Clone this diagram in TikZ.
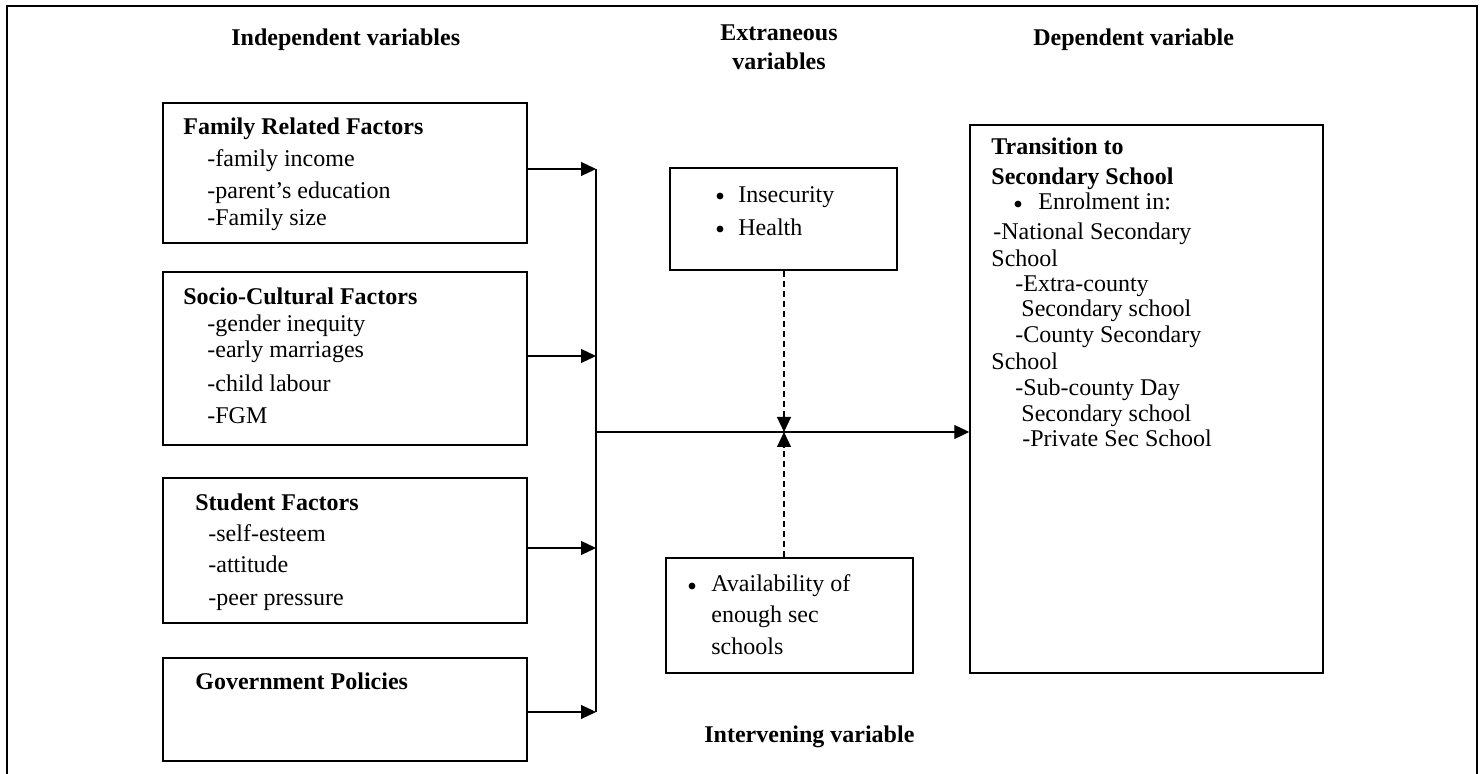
\documentclass[tikz,border=0pt]{standalone}
\usepackage{fontspec}
\setmainfont{Liberation Serif}
\usetikzlibrary{arrows.meta}
\begin{document}
\begin{tikzpicture}[x=0.5pt,y=-0.5pt,
  box/.style={draw, line width=0.75pt, inner sep=0pt, rectangle},
  tx/.style={anchor=base west, inner sep=0pt, font=\fontsize{12}{14}\selectfont},
  hd/.style={anchor=base west, inner sep=0pt, font=\fontsize{12}{14}\selectfont\bfseries},
  hc/.style={anchor=base, inner sep=0pt, font=\fontsize{12}{14}\selectfont\bfseries},
  bul/.style={circle, fill, inner sep=0pt, minimum size=3.4pt},
  conn/.style={line width=0.6pt},
  arr/.style={line width=0.6pt, -{Triangle[length=7.5pt,width=7pt]}},
  darr/.style={line width=0.6pt, dash pattern=on 3pt off 2pt, -{Triangle[length=7.5pt,width=7pt]}}]
\useasboundingbox (0,0) rectangle (1484,774);
\draw[line width=1pt] (7,774) -- (7,6) -- (1477,6) -- (1477,774);

% headings
\node[hd] (hind) at (231,46) {Independent variables};
\node[hc] (hext1) at (779,41) {Extraneous};
\node[hc] (hext2) at (779,70) {variables};
\node[hd] (hdep) at (1033,46) {Dependent variable};
\node[hd] (hint) at (704,743) {Intervening variable};

% boxes
\node[box, minimum width=182pt, minimum height=70pt] (fam) at (345,173) {};
\node[box, minimum width=182pt, minimum height=86.5pt] (soc) at (345,358.5) {};
\node[box, minimum width=182pt, minimum height=72.5pt] (stu) at (345,550.5) {};
\node[box, minimum width=182pt, minimum height=51.5pt] (gov) at (345,709.5) {};
\node[box, minimum width=113.5pt, minimum height=51pt] (ext) at (783.5,219) {};
\node[box, minimum width=123.5pt, minimum height=57.5pt] (int) at (789.5,615.5) {};
\node[box, minimum width=176.5pt, minimum height=274pt] (trans) at (1146.5,399) {};

% family
\node[hd] (f0) at (183,135) {Family Related Factors};
\node[tx] (f1) at (207,167) {-family income};
\node[tx] (f2) at (207,199) {-parent’s education};
\node[tx] (f3) at (207,226) {-Family size};

% socio-cultural
\node[hd] (s0) at (183,305) {Socio-Cultural Factors};
\node[tx] (s1) at (207,332) {-gender inequity};
\node[tx] (s2) at (207,358) {-early marriages};
\node[tx] (s3) at (207,392) {-child labour};
\node[tx] (s4) at (207,424) {-FGM};

% student
\node[hd] (u0) at (195,511) {Student Factors};
\node[tx] (u1) at (208,542) {-self-esteem};
\node[tx] (u2) at (208,573) {-attitude};
\node[tx] (u3) at (208,606) {-peer pressure};

% government
\node[hd] (g0) at (195,690) {Government Policies};

% extraneous
\node[bul] (e1b) at (720,196) {};
\node[tx] (e1) at (738,203) {Insecurity};
\node[bul] (e2b) at (720,229) {};
\node[tx] (e2) at (738,236) {Health};

% intervening
\node[bul] (i1b) at (692,586) {};
\node[tx] (i1) at (711,592) {Availability of};
\node[tx] (i2) at (711,623) {enough sec};
\node[tx] (i3) at (711,655) {schools};

% dependent
\node[hd] (d0) at (991,155) {Transition to};
\node[hd] (d1) at (991,185) {Secondary School};
\node[bul] (d2b) at (1018,204) {};
\node[tx] (d2) at (1038,210) {Enrolment in:};
\node[tx] (d3) at (993,240) {-National Secondary};
\node[tx] (d4) at (991,267) {School};
\node[tx] (d5) at (1015,292) {-Extra-county};
\node[tx] (d6) at (1021,317) {Secondary school};
\node[tx] (d7) at (1015,343) {-County Secondary};
\node[tx] (d8) at (991,370) {School};
\node[tx] (d9) at (1015,396) {-Sub-county Day};
\node[tx] (d10) at (1021,422) {Secondary school};
\node[tx] (d11) at (1022,447) {-Private Sec School};

% connectors
\coordinate (b1) at (596,169);
\coordinate (b2) at (596,356);
\coordinate (b3) at (596,548);
\coordinate (b4) at (596,712);
\coordinate (bm) at (596,432);
\coordinate (mid) at (784,432);

\draw[conn] (b1) -- (b4);
\draw[arr] (b1 -| fam.east) -- (b1);
\draw[arr] (b2 -| soc.east) -- (b2);
\draw[arr] (b3 -| stu.east) -- (b3);
\draw[arr] (b4 -| gov.east) -- (b4);
\draw[arr] (bm) -- (bm -| trans.west);
\draw[darr] (mid |- ext.south) -- (mid);
\draw[darr] (mid |- int.north) -- (mid);
\end{tikzpicture}
\end{document}
